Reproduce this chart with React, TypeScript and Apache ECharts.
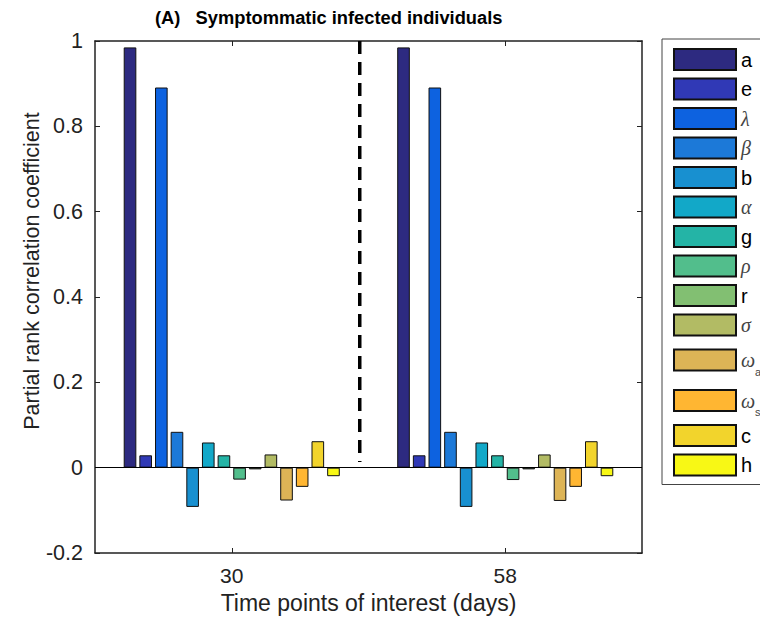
import React, { useEffect, useRef } from "react";
import * as echarts from "echarts";

const categories = ["30", "58"];
const paramNames = ["a", "e", "λ", "β", "b", "α", "g", "ρ", "r", "σ", "ωa", "ωs", "c", "h"];
const day30Values = [0.985, 0.029, 0.891, 0.084, -0.092, 0.059, 0.029, -0.028, -0.004, 0.031, -0.077, -0.045, 0.062, -0.02];
const day58Values = [0.985, 0.029, 0.891, 0.084, -0.092, 0.059, 0.029, -0.029, -0.004, 0.031, -0.078, -0.045, 0.062, -0.02];
const paramColors = [
  "#2d2a80", "#3039b6", "#0d62e0", "#1c79d8", "#1890d0", "#12a8c8", "#24b4a6",
  "#52be8c", "#82bf72", "#b2bb64", "#ddb456", "#ffb632", "#f2d42c", "#f8f815",
];
const dividerX = [0.484, 0.484];
const dividerY = [1, 0.013];

const FONT = "Liberation Sans";

function legendLabel(name: string): string {
  const greek = ["λ", "β", "α", "ρ", "σ"];
  if (name.startsWith("ω")) return `{gk2|ω}{sub|${name.slice(1)}}`;
  if (greek.includes(name)) return `{gk|${name}}`;
  return `{n|${name}}`;
}

export default function App() {
  const ref = useRef<HTMLDivElement>(null);
  useEffect(() => {
    if (!ref.current) return;
    const chart = echarts.init(ref.current, null, { renderer: "svg" });
    const barSeries = paramNames.map((name, i) => ({
      type: "bar",
      name,
      xAxisIndex: 0,
      yAxisIndex: 0,
      data: [day30Values[i], day58Values[i]],
      barCategoryGap: "21%",
      barGap: "24%",
      itemStyle: { color: paramColors[i], borderColor: "#111", borderWidth: 1 },
      emphasis: { disabled: true },
      ...(i === 0
        ? {
            markLine: {
              silent: true,
              symbol: "none",
              label: { show: false },
              lineStyle: { color: "#000", width: 1, type: "solid" },
              data: [{ yAxis: 0 }],
            },
          }
        : {}),
    }));
    const axisLineStyle = { color: "#222", width: 1.5 };
    const tickStyle = { show: true, inside: true, length: 5, lineStyle: { color: "#222" } };
    const option: any = {
      animation: false,
      title: {
        text: "(A)   Symptommatic infected individuals",
        left: 155,
        top: 8,
        padding: 0,
        textStyle: { fontFamily: FONT, fontSize: 18.3, fontWeight: "bold", color: "#000" },
      },
      legend: {
        data: paramNames,
        orient: "vertical",
        left: 662,
        top: 39,
        padding: [9, 40, 8, 11],
        borderColor: "#444",
        borderWidth: 1,
        icon: "rect",
        itemWidth: 62,
        itemHeight: 21,
        itemGap: 6.5,
        selectedMode: false,
        formatter: legendLabel,
        textStyle: {
          fontSize: 20,
          lineHeight: 21,
          rich: {
            n: { fontFamily: FONT, fontSize: 20, color: "#000", lineHeight: 21 },
            gk: { fontFamily: "Liberation Serif", fontStyle: "italic", fontSize: 20, color: "#444", lineHeight: 21 },
            gk2: { fontFamily: "Liberation Serif", fontStyle: "italic", fontSize: 20, color: "#444", verticalAlign: "middle", lineHeight: 34 },
            sub: { fontFamily: FONT, fontSize: 11, color: "#444", verticalAlign: "bottom", lineHeight: 13 },
          },
        },
      },
      grid: { left: 95, right: 118, top: 41, bottom: 67, containLabel: false },
      xAxis: [
        {
          type: "category",
          data: categories,
          position: "bottom",
          name: "Time points of interest (days)",
          nameLocation: "middle",
          nameGap: 38,
          nameTextStyle: { fontFamily: FONT, fontSize: 23, color: "#222" },
          axisLine: { onZero: false, lineStyle: axisLineStyle },
          axisTick: { ...tickStyle, alignWithLabel: true },
          axisLabel: { fontFamily: FONT, fontSize: 21, color: "#222", margin: 12 },
          splitLine: { show: false },
        },
        {
          type: "category",
          data: categories,
          position: "top",
          axisLine: { onZero: false, lineStyle: axisLineStyle },
          axisTick: { ...tickStyle, alignWithLabel: true },
          axisLabel: { show: false },
          splitLine: { show: false },
        },
        { type: "value", min: 0, max: 1, show: false },
      ],
      yAxis: [
        {
          type: "value",
          min: -0.2,
          max: 1,
          interval: 0.2,
          position: "left",
          axisLine: { show: true, onZero: false, lineStyle: axisLineStyle },
          axisTick: tickStyle,
          axisLabel: { fontFamily: FONT, fontSize: 21.5, color: "#222", margin: 12 },
          splitLine: { show: false },
        },
        {
          type: "value",
          min: -0.2,
          max: 1,
          interval: 0.2,
          position: "right",
          axisLine: { show: true, onZero: false, lineStyle: axisLineStyle },
          axisTick: tickStyle,
          axisLabel: { show: false },
          splitLine: { show: false },
        },
      ],
      graphic: [
        {
          type: "text",
          x: 32,
          y: 271,
          rotation: Math.PI / 2,
          style: {
            text: "Partial rank correlation coefficient",
            font: `21.5px "${FONT}"`,
            fill: "#222",
            textAlign: "center",
            textVerticalAlign: "middle",
          },
        },
      ],
      series: [
        ...barSeries,
        {
          type: "line",
          name: "divider",
          xAxisIndex: 2,
          yAxisIndex: 0,
          data: dividerX.map((x, i) => [x, dividerY[i]]),
          showSymbol: false,
          symbol: "none",
          silent: true,
          lineStyle: { color: "#000", width: 3.5, type: [13, 8] },
          z: 5,
        },
      ],
    };
    chart.setOption(option);
    return () => chart.dispose();
  }, []);
  return (
    <div
      ref={ref}
      style={{ position: "absolute", left: 0, top: 0, width: 760, height: 620, background: "#fff" }}
    />
  );
}
